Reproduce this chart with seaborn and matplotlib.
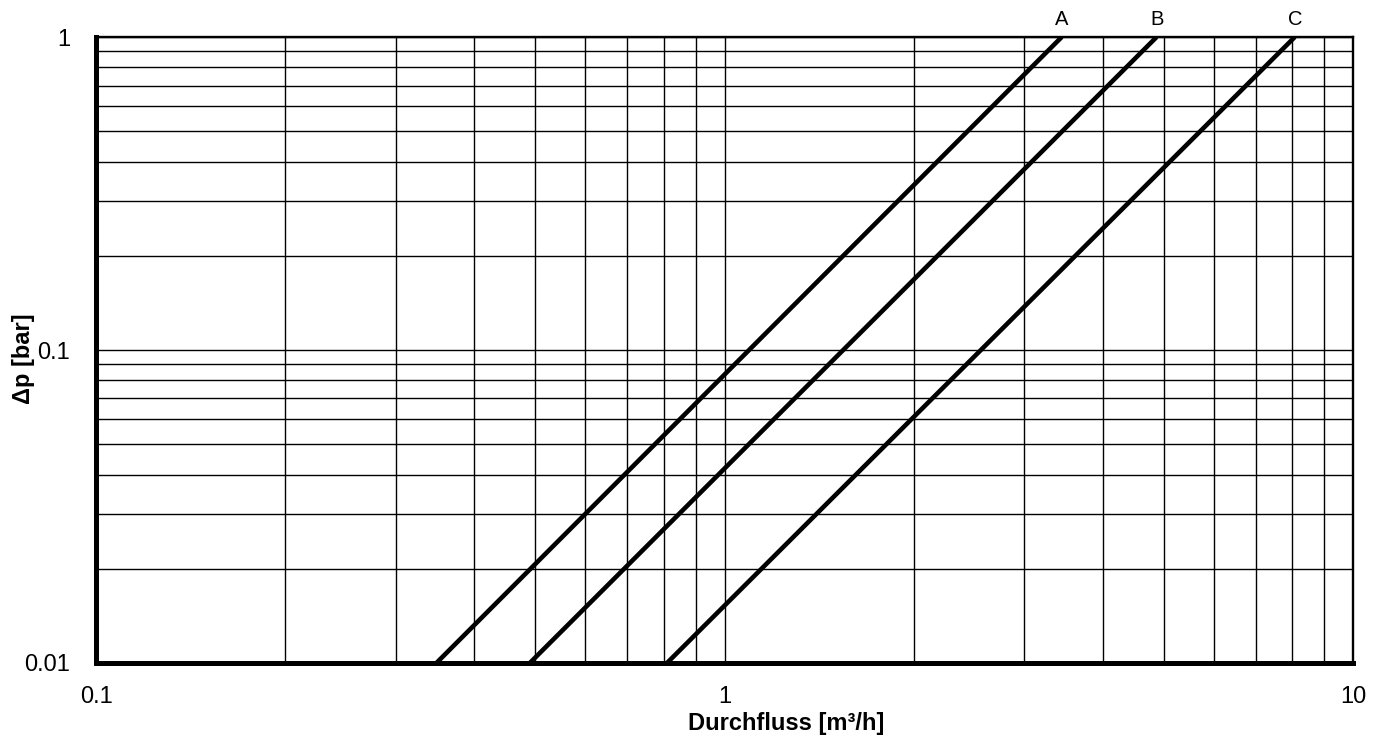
import matplotlib
matplotlib.use("Agg")
import matplotlib.pyplot as plt
from matplotlib.ticker import LogLocator, NullFormatter, FixedLocator, FixedFormatter
import seaborn as sns
import pandas as pd

# Valve characteristics: flow [m³/h] at the two ends of each curve and pressure drop [bar]
series = ["A", "B", "C"]
flow_A = [0.348, 3.44]
flow_B = [0.49, 4.87]
flow_C = [0.81, 8.08]
dp_ends = [0.01, 1.0]

x_ticks = [0.1, 1, 10]
x_tick_labels = ["0.1", "1", "10"]
y_ticks = [0.01, 0.1, 1]
y_tick_labels = ["0.01", "0.1", "1"]

flows = {"A": flow_A, "B": flow_B, "C": flow_C}
df = pd.DataFrame(
    [(s, q, p) for s in series for q, p in zip(flows[s], dp_ends)],
    columns=["Kurve", "Durchfluss", "dp"],
)

sns.set_style("white")
plt.rcParams["font.family"] = ["Liberation Sans", "DejaVu Sans"]
plt.rcParams["text.color"] = "black"
plt.rcParams["axes.labelcolor"] = "black"
plt.rcParams["xtick.color"] = "black"
plt.rcParams["ytick.color"] = "black"

fig = plt.figure(figsize=(13.82, 7.36), dpi=100)
ax = fig.add_axes([0.0695, 0.0992, 0.9095, 0.8505])

sns.lineplot(
    data=df, x="Durchfluss", y="dp", hue="Kurve",
    palette=["black"] * 3, linewidth=3.3, legend=False, ax=ax,
    solid_capstyle="butt", zorder=3,
)

ax.set_xscale("log")
ax.set_yscale("log")
ax.set_xlim(0.1, 10)
ax.set_ylim(0.01, 1)

ax.xaxis.set_major_locator(FixedLocator(x_ticks))
ax.xaxis.set_major_formatter(FixedFormatter(x_tick_labels))
ax.yaxis.set_major_locator(FixedLocator(y_ticks))
ax.yaxis.set_major_formatter(FixedFormatter(y_tick_labels))
ax.xaxis.set_minor_locator(LogLocator(base=10, subs=range(2, 10)))
ax.yaxis.set_minor_locator(LogLocator(base=10, subs=range(2, 10)))
ax.xaxis.set_minor_formatter(NullFormatter())
ax.yaxis.set_minor_formatter(NullFormatter())

ax.grid(True, which="both", color="black", linewidth=1.0)
ax.set_axisbelow(True)

ax.tick_params(axis="both", which="major", direction="out", length=6.5, width=3.4,
               color="black", labelsize=17, labelcolor="black")
ax.tick_params(axis="both", which="minor", length=0)
ax.tick_params(axis="x", which="major", pad=10)
ax.tick_params(axis="y", which="major", pad=12)

for side in ["left", "bottom"]:
    ax.spines[side].set_linewidth(3.6)
    ax.spines[side].set_color("black")
    ax.spines[side].set_zorder(4)
for side in ["top", "right"]:
    ax.spines[side].set_linewidth(1.7)
    ax.spines[side].set_color("black")

# Curve names above the upper end of each line
for s in series:
    ax.annotate(s, xy=(flows[s][-1], dp_ends[-1]), xytext=(0, 6),
                textcoords="offset points", ha="center", va="bottom",
                fontsize=14.5, color="black", annotation_clip=False)

ax.set_xlabel("Durchfluss [m³/h]", fontsize=17, fontweight="bold", color="black")
ax.xaxis.label.set_va("center")
ax.xaxis.set_label_coords(0.549, -0.0974)

ax.set_ylabel("Δp [bar]", fontsize=17, fontweight="bold", color="black")
ax.yaxis.label.set_va("center")
ax.yaxis.set_label_coords(-0.0575, 0.4856)

fig.savefig("out.png", dpi=100, facecolor="white")
